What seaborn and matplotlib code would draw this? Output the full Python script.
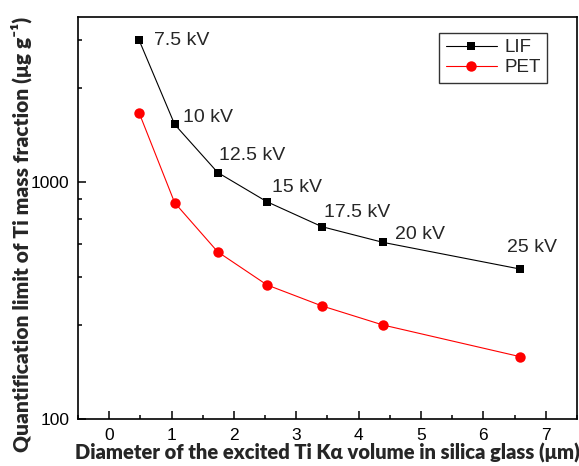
import numpy as np
import pandas as pd
import matplotlib
matplotlib.use("Agg")
import matplotlib.pyplot as plt
import matplotlib.ticker as mticker
import seaborn as sns

# dados
diametro = [0.48, 1.05, 1.74, 2.53, 3.41, 4.39, 6.58]
tensao = ["7.5 kV", "10 kV", "12.5 kV", "15 kV", "17.5 kV", "20 kV", "25 kV"]
lif = [3980, 1755, 1100, 828, 650, 558, 431]
pet = [1965, 820, 509, 369, 301, 250, 184]

df = pd.DataFrame({
    "x": diametro * 2,
    "y": lif + pet,
    "cristal": ["LIF"] * len(lif) + ["PET"] * len(pet),
})

sns.set_style("ticks")
plt.rcParams["font.family"] = ["Liberation Sans", "DejaVu Sans"]

fig = plt.figure(figsize=(5.79, 4.66), dpi=100)
ax = fig.add_axes([0.1347, 0.1002, 0.8618, 0.864])

sns.lineplot(
    data=df, x="x", y="y", hue="cristal", style="cristal",
    markers={"LIF": "s", "PET": "o"}, dashes=False,
    palette={"LIF": "black", "PET": "red"},
    markersize=7, markeredgewidth=0, linewidth=0.8, ax=ax,
)
# circulos um pouco maiores
for ln in ax.get_lines():
    if ln.get_marker() == "o":
        ln.set_markersize(7.5)
    elif ln.get_marker() == "s":
        ln.set_markersize(5.5)

ax.set_yscale("log")
ax.set_xlim(-0.5, 7.5)
ax.set_ylim(100, 5000)
ax.xaxis.set_major_locator(mticker.MultipleLocator(1))
ax.xaxis.set_minor_locator(mticker.MultipleLocator(0.5))
ax.yaxis.set_major_locator(mticker.FixedLocator([100, 1000]))
ax.yaxis.set_major_formatter(mticker.FixedFormatter(["100", "1000"]))
ax.yaxis.set_minor_locator(mticker.FixedLocator([250, 400, 550, 700, 850, 2500, 4000]))
ax.yaxis.set_minor_formatter(mticker.NullFormatter())

ax.tick_params(which="both", direction="in", width=1.1, labelsize=12.5, colors="black")
ax.tick_params(which="major", length=5.5, pad=6)
ax.tick_params(which="minor", length=3.2)
for s in ax.spines.values():
    s.set_visible(True)
    s.set_linewidth(1.2)
    s.set_color("black")

# rotulos de tensao
desloc = [(15, 0), (8, 7), (1, 17), (5, 14), (2, 14), (12, 8), (-13, 21)]
for xi, yi, t, d in zip(diametro, lif, tensao, desloc):
    ax.annotate(t, (xi, yi), xytext=d, textcoords="offset pixels",
                ha="left", va="center", fontsize=14)

ax.set_xlabel("Diameter of the excited Ti Kα volume in silica glass (μm)",
              labelpad=0, family=["Lato", "DejaVu Sans"], fontweight="heavy",
              fontsize=14.5)
ax.set_ylabel("Quantification limit of Ti mass fraction (μg g⁻¹)",
              family=["Lato", "DejaVu Sans"], fontweight="heavy",
              fontsize=15)
ax.yaxis.set_label_coords(-0.092, 0.46)

h, l = ax.get_legend_handles_labels()
leg = ax.legend(h, l, loc="upper right", bbox_to_anchor=(0.94, 0.96),
                borderaxespad=0, fontsize=13.5, frameon=True, fancybox=False,
                edgecolor="black", handlelength=2.7, borderpad=0.35,
                labelspacing=0.15, handletextpad=0.4)
leg.get_frame().set_linewidth(1.0)

plt.savefig("out.png", dpi=100)
